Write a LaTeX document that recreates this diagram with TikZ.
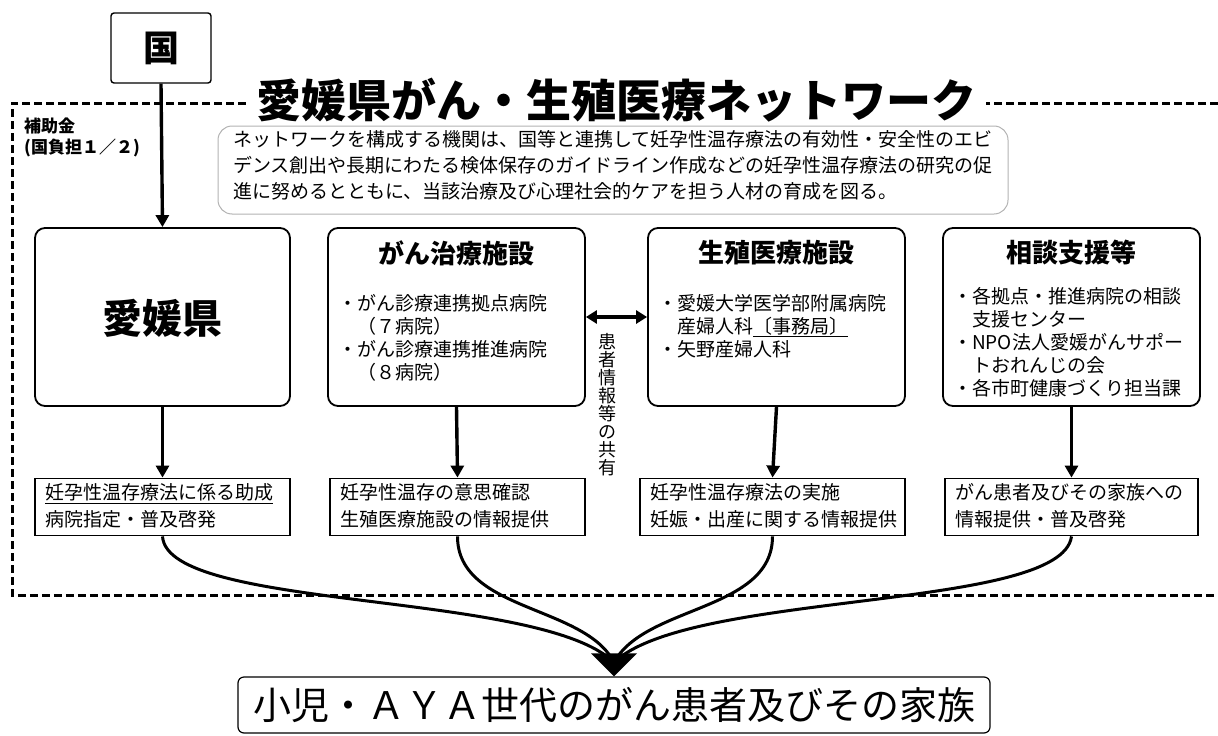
\documentclass[tikz,border=0pt]{standalone}
\usepackage{fontspec}
\setmainfont{Noto Sans CJK JP}
\usetikzlibrary{arrows.meta,calc}
\tikzset{
  ubox/.style={draw, line width=1.8pt, rounded corners=10pt, minimum width=257pt, minimum height=178pt, inner sep=0pt},
  lbox/.style={draw, line width=1.8pt, minimum width=255pt, minimum height=57pt, inner sep=0pt},
  arr/.style={line width=3.4pt, -{Triangle[length=12pt,width=13pt]}},
  dblarr/.style={line width=3.2pt, {Triangle[length=11pt,width=13pt]}-{Triangle[length=11pt,width=13pt]}},
  flow/.style={line width=3pt},
  ttl/.style={font=\fontsize{26}{30}\selectfont\bfseries, inner sep=0pt},
  cnt/.style={font=\fontsize{19}{23}\selectfont, align=left, anchor=north west, inner sep=0pt},
  ltxt/.style={font=\fontsize{19}{27}\selectfont, align=left, anchor=west, inner sep=0pt},
}
\begin{document}
\begin{tikzpicture}[x=1pt,y=-1pt]
\useasboundingbox (0,0) rectangle (1218,736);
% dashed network frame
\draw[line width=3pt, dash pattern=on 8pt off 4pt] (1218,103) -- (12,103) -- (12,595) -- (1218,595);
% title
\node[fill=white, inner xsep=10pt, inner ysep=2pt, font=\fontsize{45}{48}\selectfont\bfseries] (title) at (616,100) {愛媛県がん・生殖医療ネットワーク};
% 国
\node[draw, line width=1.4pt, rounded corners=3pt, minimum width=100pt, minimum height=70pt, font=\fontsize{36}{40}\selectfont\bfseries] (kuni) at (161,48) {国};
% subsidy label
\node[anchor=north west, align=left, inner sep=0pt, font=\fontsize{17}{21}\selectfont\bfseries] (hojo) at (24,118) {補助金\\(国負担１／２)};
% description box
\node[draw=gray!60, line width=1pt, rounded corners=14pt, minimum width=790pt, minimum height=88pt] (desc) at (613,170) {};
\node[align=left, inner sep=0pt, font=\fontsize{19}{26}\selectfont] (desctxt) at (613,165) {ネットワークを構成する機関は、国等と連携して妊孕性温存療法の有効性・安全性のエビ\\デンス創出や長期にわたる検体保存のガイドライン作成などの妊孕性温存療法の研究の促\\進に努めるとともに、当該治療及び心理社会的ケアを担う人材の育成を図る。};
% upper boxes
\node[ubox, minimum width=255pt] (b1) at (162.5,317) {};
\node[font=\fontsize{40}{44}\selectfont\bfseries] (b1t) at (162.5,318) {愛媛県};
\node[ubox] (b2) at (456.5,317) {};
\node[ttl] (b2t) at (456.5,253) {がん治療施設};
\node[cnt] (b2c) at (338,294) {・がん診療連携拠点病院\\　（７病院）\\・がん診療連携推進病院\\　（８病院）};
\node[ubox] (b3) at (776.5,317) {};
\node[ttl] (b3t) at (776.5,253) {生殖医療施設};
\node[cnt] (b3c) at (658,294) {・愛媛大学医学部附属病院\\　産婦人科\underline{〔事務局〕}\\・矢野産婦人科};
\node[ubox] (b4) at (1071.5,317) {};
\node[ttl] (b4t) at (1071.5,253) {相談支援等};
\node[cnt] (b4c) at (953,287) {・各拠点・推進病院の相談\\　支援センター\\・NPO法人愛媛がんサポー\\　トおれんじの会\\・各市町健康づくり担当課};
% sharing arrow and vertical label
\draw[dblarr] (b2.east) -- (b3.west);
\node[align=center, inner sep=0pt, font=\fontsize{18}{18}\selectfont] (share) at (607,405) {患\\者\\情\\報\\等\\の\\共\\有};
% lower boxes
\node[lbox] (l1) at (162.5,507) {};
\node[ltxt] (l1t) at (45,506) {\underline{妊孕性温存療法に係る助成}\\病院指定・普及啓発};
\node[lbox] (l2) at (457.5,507) {};
\node[ltxt] (l2t) at (340,506) {妊孕性温存の意思確認\\生殖医療施設の情報提供};
\node[lbox, minimum width=265pt] (l3) at (772.5,507) {};
\node[ltxt] (l3t) at (650,506) {妊孕性温存療法の実施\\妊娠・出産に関する情報提供};
\node[lbox, minimum width=253pt] (l4) at (1071.5,507) {};
\node[ltxt] (l4t) at (955,506) {がん患者及びその家族への\\情報提供・普及啓発};
% vertical arrows
\draw[arr] (kuni.south) -- (b1.north);
\draw[arr] (b1.south) -- (l1.north);
\draw[arr] (b2.south) -- (l2.north);
\draw[arr] (b3.south) -- (l3.north);
\draw[arr] (b4.south) -- (l4.north);
% final box
\node[draw, line width=1.2pt, rounded corners=6pt, minimum width=752pt, minimum height=56pt, font=\fontsize{38}{42}\selectfont] (fin) at (614,705) {小児・ＡＹＡ世代のがん患者及びその家族};
\coordinate (conv) at ($(fin.north)+(0,-14)$);
% converging flows
\draw[flow] (l1.south) .. controls +(5,75) and (540,590) .. (conv);
\draw[flow] (l2.south) .. controls +(0,75) and (585,605) .. (conv);
\draw[flow] (l3.south) .. controls +(0,75) and (645,605) .. (conv);
\draw[flow] (l4.south) .. controls +(-10,75) and (690,590) .. (conv);
\fill (fin.north) -- ++(-23,-23) -- ++(46,0) -- cycle;
\end{tikzpicture}
\end{document}
